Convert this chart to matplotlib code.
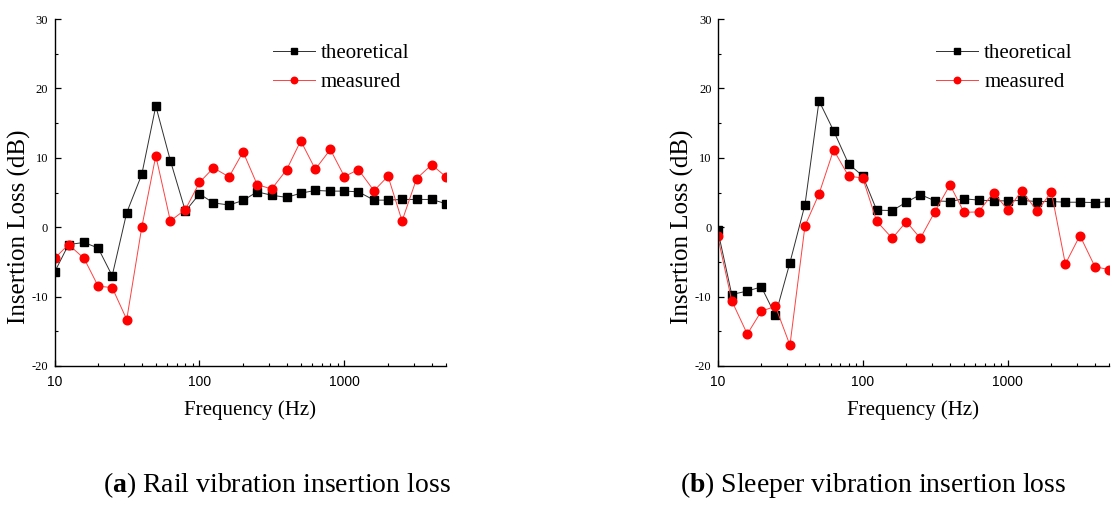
import matplotlib
matplotlib.use("Agg")
import matplotlib.pyplot as plt
from matplotlib.ticker import FixedLocator, FixedFormatter, MultipleLocator, LogLocator, NullFormatter

plt.rcParams['font.family'] = ['Liberation Serif', 'DejaVu Serif']
plt.rcParams['mathtext.fontset'] = 'custom'
plt.rcParams['mathtext.rm'] = 'Liberation Serif'
plt.rcParams['mathtext.bf'] = 'Liberation Serif:bold'
plt.rcParams['axes.unicode_minus'] = False

# 1/3-octave band centre frequencies (Hz)
freqs = [10, 12.5, 16, 20, 25, 31.5, 40, 50, 63, 80, 100, 125, 160, 200, 250,
         315, 400, 500, 630, 800, 1000, 1250, 1600, 2000, 2500, 3150, 4000, 5000]

rail_theoretical = [-6.5, -2.5, -2.2, -3.0, -7.0, 2.1, 7.6, 17.45, 9.6, 2.3, 4.8, 3.5,
                    3.2, 3.85, 5.1, 4.6, 4.3, 4.9, 5.3, 5.2, 5.2, 5.1, 3.9, 3.9,
                    4.0, 4.0, 4.0, 3.4]
rail_measured = [-4.5, -2.5, -4.5, -8.5, -8.7, -13.3, 0.0, 10.3, 0.9, 2.55, 6.45, 8.55,
                 7.25, 10.85, 6.15, 5.5, 8.3, 12.45, 8.35, 11.2, 7.3, 8.3, 5.25, 7.35,
                 0.9, 7.0, 9.0, 7.3]

sleeper_theoretical = [-0.4, -9.7, -9.2, -8.6, -12.7, -5.1, 3.25, 18.2, 13.9, 9.1, 7.4,
                       2.45, 2.4, 3.6, 4.7, 3.8, 3.7, 4.1, 3.9, 3.8, 3.8, 3.85, 3.7,
                       3.7, 3.6, 3.6, 3.55, 3.65]
sleeper_measured = [-1.3, -10.6, -15.4, -12.1, -11.4, -17.0, 0.2, 4.8, 11.15, 7.35, 7.1,
                    0.85, -1.6, 0.8, -1.6, 2.25, 6.1, 2.15, 2.2, 5.0, 2.5, 5.25, 2.3,
                    5.1, -5.3, -1.2, -5.7, -6.1]

series_labels = ["theoretical", "measured"]
xtick_values = [10, 100, 1000]
xtick_labels = ["10", "100", "1000"]
ylabel_text = "Insertion Loss (dB)"
xlabel_text = "Frequency (Hz)"
captions = [r"($\mathbf{a}$) Rail vibration insertion loss",
            r"($\mathbf{b}$) Sleeper vibration insertion loss"]

W, H = 1112, 505
fig = plt.figure(figsize=(W / 100, H / 100), dpi=100)

def fx(px):
    return px / W

def fy(py):
    return 1 - py / H

ax_top, ax_bot = 19, 366
axes_px = [(54.5, 445.7), (717.7, 1109.0)]
data = [(rail_theoretical, rail_measured), (sleeper_theoretical, sleeper_measured)]

for (x0, x1), (theo, meas) in zip(axes_px, data):
    ax = fig.add_axes([fx(x0), fy(ax_bot), fx(x1) - fx(x0), fy(ax_top) - fy(ax_bot)])
    ax.plot(freqs, theo, color='#303030', lw=0.7, marker='s', ms=5.4,
            mfc='black', mec='black', label=series_labels[0])
    ax.plot(freqs, meas, color='#ff4040', lw=0.7, marker='o', ms=6.2,
            mfc='red', mec='red', label=series_labels[1])
    ax.set_xscale('log')
    ax.set_xlim(10, 5000)
    ax.set_ylim(-20, 30)
    ax.xaxis.set_major_locator(FixedLocator(xtick_values))
    ax.xaxis.set_major_formatter(FixedFormatter(xtick_labels))
    ax.xaxis.set_minor_locator(LogLocator(base=10, subs=range(2, 10)))
    ax.xaxis.set_minor_formatter(NullFormatter())
    ax.yaxis.set_major_locator(MultipleLocator(10))
    ax.yaxis.set_minor_locator(MultipleLocator(5))
    for s in ('top', 'right'):
        ax.spines[s].set_visible(False)
    for s in ('left', 'bottom'):
        ax.spines[s].set_linewidth(1.0)
    ax.tick_params(which='major', direction='in', length=4.5, width=0.9)
    ax.tick_params(which='minor', direction='in', length=2.5, width=0.8)
    ax.tick_params(axis='y', which='major', pad=4.5, labelsize=9)
    ax.tick_params(axis='x', which='major', pad=6.5, labelsize=10)
    for lab in ax.get_xticklabels():
        lab.set_fontfamily('Liberation Sans')
    ax.set_ylabel(ylabel_text, fontsize=18, va='center')
    ax.yaxis.set_label_coords(-0.09, 0.40)
    ax.set_xlabel(xlabel_text, fontsize=15, va='center')
    ax.xaxis.set_label_coords(0.5, -0.127)
    ax.legend(loc='center left', bbox_to_anchor=(0.5585, 0.86), frameon=False,
              fontsize=15, handlelength=2.0, handletextpad=0.3, labelspacing=0.45,
              borderpad=0, borderaxespad=0, numpoints=1, markerscale=0.75)

fig.text(fx(103), fy(485), captions[0], fontsize=20, ha='left', va='center')
fig.text(fx(680), fy(485), captions[1], fontsize=20, ha='left', va='center')

fig.savefig("out.png", dpi=100)
